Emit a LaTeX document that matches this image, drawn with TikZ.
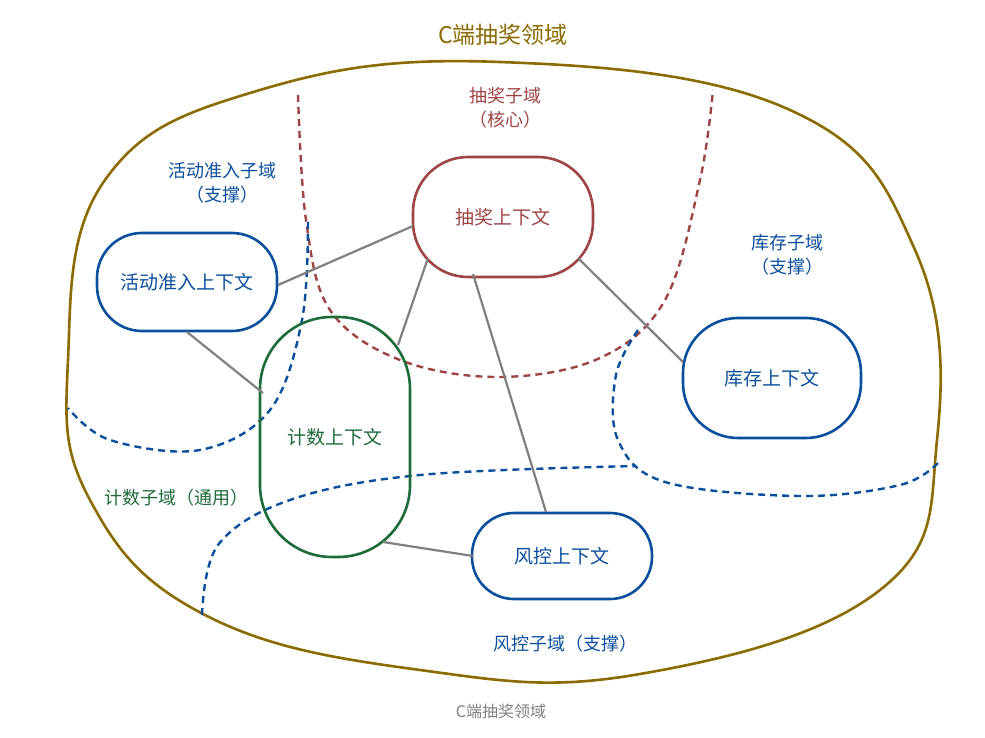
\documentclass[tikz,border=0pt]{standalone}
\usepackage{fontspec}
\setmainfont{Noto Sans CJK SC}
\usetikzlibrary{shapes.geometric}
\definecolor{gold}{HTML}{8B6A00}
\definecolor{brn}{HTML}{9E4444}
\definecolor{blu}{HTML}{0B4F9C}
\definecolor{grn}{HTML}{1E6B3A}
\tikzset{
 ctx/.style={rectangle,line width=2.6pt,inner sep=0pt,font=\fontsize{19}{23}\selectfont},
 link/.style={draw=gray,line width=2.2pt},
 bdash/.style={dashed,dash pattern=on 7pt off 5pt,line width=2.4pt},
 lbl/.style={font=\fontsize{18}{24}\selectfont,align=center}
}
\begin{document}
\begin{tikzpicture}[x=1pt,y=-1pt]
\useasboundingbox (0,0) rectangle (985,738);
\draw[gold,line width=2.6pt] plot[smooth cycle,tension=0.7] coordinates{(500,62) (790,110) (915,250) (937,440) (880,590) (640,674) (420,670) (205,615) (90,500) (68,360) (105,180) (260,90)};
\node[lbl,font=\fontsize{23}{26}\selectfont,text=gold] (t) at (503,35) {C端抽奖领域};
\node[lbl,text=gray,font=\fontsize{16}{20}\selectfont] (cap) at (501,711) {C端抽奖领域};
% dashed boundaries
\draw[bdash,brn] plot[smooth,tension=0.6] coordinates{(298,95) (306,220) (330,310) (400,360) (500,377) (600,358) (665,300) (700,180) (713,90)};
\draw[bdash,blu] plot[smooth,tension=0.6] coordinates{(308,222) (302,320) (270,410) (200,450) (110,440) (68,408)};
\draw[bdash,blu] plot[smooth,tension=0.6] coordinates{(202,615) (218,545) (290,500) (420,475) (636,466)};
\draw[bdash,blu] plot[smooth,tension=0.6] coordinates{(638,330) (616,375) (618,440) (665,482) (800,496) (900,485) (938,463)};
% contexts
\node[ctx,draw=brn,text=brn,minimum width=180pt,minimum height=120pt,rounded corners=55pt] (cj) at (503,217) {抽奖上下文};
\node[ctx,draw=blu,text=blu,minimum width=180pt,minimum height=98pt,rounded corners=45pt] (hd) at (187,282) {活动准入上下文};
\node[ctx,draw=blu,text=blu,minimum width=178pt,minimum height=120pt,rounded corners=55pt] (kc) at (772,378) {库存上下文};
\node[ctx,draw=grn,text=grn,minimum width=150pt,minimum height=240pt,rounded corners=72pt] (js) at (335,437) {计数上下文};
\node[ctx,draw=blu,text=blu,minimum width=180pt,minimum height=86pt,rounded corners=42pt] (fk) at (562,556) {风控上下文};
% connector end points on the borders
\coordinate (a1) at (413,226); \coordinate (b1) at (278,285);
\coordinate (a2) at (428,258); \coordinate (b2) at (398,345);
\coordinate (a3) at (473,274); \coordinate (b3) at (546,512);
\coordinate (a4) at (578,258); \coordinate (b4) at (683,362);
\coordinate (a5) at (187,332); \coordinate (b5) at (263,393);
\coordinate (a6) at (383,542); \coordinate (b6) at (473,556);
\draw[link] (a1) -- (b1);
\draw[link] (a2) -- (b2);
\draw[link] (a3) -- (b3);
\draw[link] (a4) -- (b4);
\draw[link] (a5) -- (b5);
\draw[link] (a6) -- (b6);
% labels
\node[lbl,text=brn] (l1) at (505,108) {抽奖子域\\（核心）};
\node[lbl,text=blu] (l2) at (222,183) {活动准入子域\\（支撑）};
\node[lbl,text=blu] (l3) at (787,255) {库存子域\\（支撑）};
\node[lbl,text=grn] (l4) at (176,498) {计数子域（通用）};
\node[lbl,text=blu] (l5) at (565,644) {风控子域（支撑）};
\end{tikzpicture}
\end{document}
